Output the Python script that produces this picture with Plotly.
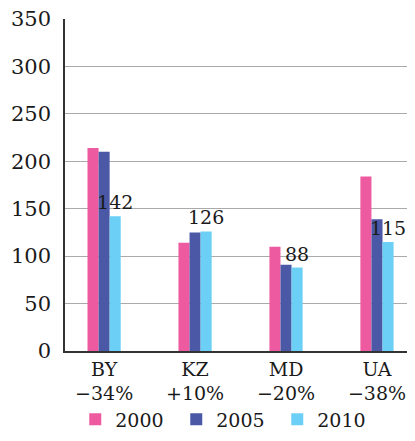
import plotly.graph_objects as go

countries = ["BY", "KZ", "MD", "UA"]
changes = ["−34%", "+10%", "−20%", "−38%"]
years = ["2000", "2005", "2010"]
v2000 = [214, 114, 110, 184]
v2005 = [210, 125, 91, 139]
v2010 = [142, 126, 88, 115]
y_ticks = [0, 50, 100, 150, 200, 250, 300, 350]

colors = ["#EE5AA0", "#4A58A6", "#6BCFF6"]
FONT = "DejaVu Serif"
TXT = "#1A1A1A"

cats = [f"{c}<br>{p}" for c, p in zip(countries, changes)]
series = [v2000, v2005, v2010]

fig = go.Figure()
for i, (yr, vals) in enumerate(zip(years, series)):
    kw = {}
    if yr == "2010":
        kw = dict(text=[str(v) for v in vals], textposition="outside",
                  textfont=dict(family=FONT, size=19, color=TXT),
                  constraintext="none", cliponaxis=False)
    fig.add_trace(go.Bar(x=cats, y=vals, name=yr, marker=dict(color=colors[i], line=dict(width=0)), **kw))

# page body has an 8px default margin on every side; keep the figure inside
# the window (no scrollbars) and offset the margins accordingly
fig.update_layout(
    width=399, height=425,
    margin=dict(l=57, r=0, t=11, b=82, autoexpand=False),
    paper_bgcolor="white", plot_bgcolor="white",
    barmode="group", bargap=0.635, bargroupgap=0,
    font=dict(family=FONT, size=20, color=TXT),
    showlegend=True,
    legend=dict(orientation="h", x=0.03, xanchor="left",
                yref="container", y=0.032, yanchor="middle",
                bgcolor="rgba(0,0,0,0)",
                font=dict(family=FONT, size=19, color=TXT),
                entrywidth=56, itemsizing="constant", traceorder="normal"),
    xaxis=dict(type="category", range=[-0.43, 3.33], showgrid=False,
               showline=True, linecolor="#333333", linewidth=1.5,
               ticks="", automargin=False,
               tickfont=dict(family=FONT, size=19, color=TXT)),
    yaxis=dict(range=[0, 350], tickvals=y_ticks, showgrid=True,
               gridcolor="#AAAAAA", gridwidth=1, showline=True,
               linecolor="#333333", linewidth=1.5, ticks="",
               ticklabelstandoff=8, zeroline=False, automargin=False,
               ticklabeloverflow="allow",
               tickfont=dict(family=FONT, size=21, color=TXT)),
)

fig.write_html("out.html")
